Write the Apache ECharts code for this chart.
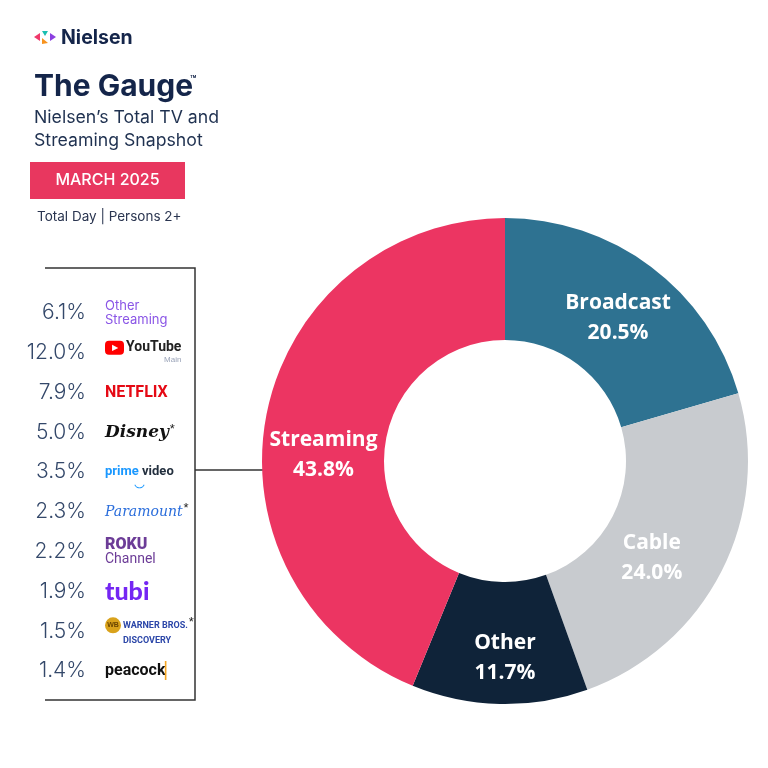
<!DOCTYPE html>
<html><head><meta charset="utf-8">
<script src="https://cdn.jsdelivr.net/npm/echarts@6/dist/echarts.min.js"></script>
<style>html,body{margin:0;padding:0;background:#fff}#c{width:768px;height:768px}</style>
</head><body><div id="c"></div>
<script>
// ---- data ----
var segments = ['Broadcast', 'Cable', 'Other', 'Streaming'];
var segmentShares = [20.5, 24.0, 11.7, 43.8];
var segmentColors = ['#2E7291', '#C8CBCF', '#0F2339', '#EC3562'];

var brands = ['Other Streaming', 'YouTube', 'Netflix', 'Disney', 'Prime Video', 'Paramount', 'Roku Channel', 'Tubi', 'Warner Bros. Discovery', 'Peacock'];
var brandShares = [6.1, 12.0, 7.9, 5.0, 3.5, 2.3, 2.2, 1.9, 1.5, 1.4];

var titleText = 'The Gauge';
var subtitleLines = ['Nielsen\u2019s Total TV and', 'Streaming Snapshot'];
var monthText = 'MARCH 2025';
var audienceText = 'Total Day | Persons 2+';

// ---- label placement nudges (style, not data) ----
var labelNudge = { 'Broadcast': [2, 5], 'Cable': [-18, 13], 'Other': [4, 12], 'Streaming': [0, 30] };

// ---- brand label rich strings ----
var brandLabel = {
  'Other Streaming': '{os|Other}\n{os|Streaming}',
  'YouTube': '{ytb|\u25B6}{yt|YouTube}\n{ytm|Main}',
  'Netflix': '{nf|NETFLIX}',
  'Disney': '{ds|Disney}{ast|*}',
  'Prime Video': '{pv1|prime}{pv2| video}\n{pvs|\u203F}',
  'Paramount': '{pm|Paramount}{ast|*}',
  'Roku Channel': '{rk|ROKU}\n{rc|Channel}',
  'Tubi': '{tb|tubi}',
  'Warner Bros. Discovery': '{wb|WB}{wbd|WARNER BROS.}{ast|*}\n{wbs| }{wbd|DISCOVERY}',
  'Peacock': '{pc|peacock}{pcb|\u258F}'
};

var chart = echarts.init(document.getElementById('c'));
var navy = '#14254A';

var option = {
  backgroundColor: '#fff',
  animation: false,
  grid: { left: 88, width: 10, top: 293, height: 398 },
  xAxis: { type: 'value', show: false },
  yAxis: [{
    type: 'category', inverse: true, data: brands, position: 'left',
    axisLine: { show: false }, axisTick: { show: false },
    axisLabel: {
      interval: 0, margin: 2, fontFamily: 'Inter', fontSize: 21, fontWeight: 300, color: '#34486A',
      formatter: function (v, i) { return brandShares[i].toFixed(1) + '%'; }
    }
  }, {
    type: 'category', inverse: true, data: brands, position: 'right',
    axisLine: { show: false }, axisTick: { show: false },
    axisLabel: {
      interval: 0, margin: 7, align: 'left',
      formatter: function (v) { return brandLabel[v]; },
      rich: {
        os: { color: '#8A55E6', fontSize: 13, lineHeight: 14, fontFamily: 'Inter' },
        ytb: { backgroundColor: '#FF0000', color: '#fff', fontSize: 8, padding: [3, 6, 3, 7], borderRadius: 4 },
        yt: { fontFamily: 'Roboto', fontWeight: 'bold', fontSize: 14, color: '#222', padding: [0, 0, 0, 2] },
        ytm: { fontSize: 8, color: '#9AA3B8', width: 66, align: 'right', lineHeight: 10 },
        nf: { color: '#E50914', fontWeight: 'bold', fontSize: 16, fontFamily: 'Roboto' },
        ds: { fontFamily: 'DejaVu Serif', fontStyle: 'italic', fontWeight: 'bold', fontSize: 17, color: '#111' },
        ast: { fontSize: 13, verticalAlign: 'top', color: '#222', padding: [0, 0, 6, 1] },
        pv1: { color: '#1A98FF', fontWeight: 'bold', fontSize: 13, fontFamily: 'Roboto', lineHeight: 13 },
        pv2: { color: '#232F3E', fontWeight: 'bold', fontSize: 13, fontFamily: 'Roboto', lineHeight: 13 },
        pvs: { color: '#1A98FF', fontSize: 18, width: 60, align: 'center', lineHeight: 1 },
        pm: { fontFamily: 'DejaVu Serif', fontStyle: 'italic', fontSize: 14, color: '#2A6DDB' },
        rk: { color: '#6C3C97', fontWeight: 900, fontSize: 16, lineHeight: 15, fontFamily: 'Roboto' },
        rc: { color: '#6C3C97', fontSize: 14, lineHeight: 14, fontFamily: 'Roboto' },
        tb: { color: '#7426F3', fontWeight: 900, fontSize: 25, fontFamily: 'Lato' },
        wb: { backgroundColor: '#D9A21B', color: '#6A4500', fontSize: 7, fontWeight: 'bold', width: 16, height: 16, borderRadius: 8, align: 'center' },
        wbd: { color: '#2B46A8', fontSize: 9, fontWeight: 'bold', padding: [0, 0, 0, 2], lineHeight: 10, fontFamily: 'Roboto' },
        wbs: { width: 16 },
        pc: { fontWeight: 'bold', fontSize: 16, color: '#111', fontFamily: 'Roboto' },
        pcb: { color: '#F5A623', fontSize: 16 }
      }
    }
  }],
  series: [{
    type: 'scatter', yAxisIndex: 0, symbolSize: 0, silent: true,
    data: brandShares.map(function (v, i) { return [0, i]; })
  }, {
    type: 'pie',
    center: [505, 461],
    radius: [121, 243],
    startAngle: 90,
    clockwise: true,
    silent: true,
    label: {
      show: true, position: 'inside',
      formatter: function (p) { return p.name + '\n' + p.value.toFixed(1) + '%'; },
      color: '#fff', fontSize: 21, fontWeight: 'bold', lineHeight: 30, fontFamily: 'Open Sans'
    },
    labelLine: { show: false },
    data: segments.map(function (n, i) {
      return { name: n, value: segmentShares[i], itemStyle: { color: segmentColors[i] }, label: { offset: labelNudge[n] } };
    })
  }],
  graphic: [
    // Nielsen logo marks
    { type: 'polygon', shape: { points: [[34, 37], [40, 33], [40, 41]] }, style: { fill: '#F0386B' } },
    { type: 'polygon', shape: { points: [[42, 31], [48, 31], [45, 36]] }, style: { fill: '#1BBFB0' } },
    { type: 'polygon', shape: { points: [[42, 38], [48, 43], [42, 44]] }, style: { fill: '#F7931E' } },
    { type: 'polygon', shape: { points: [[50, 33], [56, 37], [50, 41]] }, style: { fill: '#8B3FE0' } },
    { type: 'text', left: 61, top: 28, style: { text: 'Nielsen', font: 'bold 19.5px Inter', fill: navy } },
    { type: 'text', left: 34, top: 72, style: { text: titleText, font: 'bold 30px Inter', fill: navy } },
    { type: 'text', left: 190, top: 75, style: { text: '\u2122', font: 'bold 10px Inter', fill: navy } },
    { type: 'text', left: 34, top: 109, style: { text: subtitleLines[0], font: '17.7px Inter', fill: '#1F3150' } },
    { type: 'text', left: 34, top: 132, style: { text: subtitleLines[1], font: '17.7px Inter', fill: '#1F3150' } },
    { type: 'rect', shape: { x: 30, y: 162, width: 155, height: 37 }, style: { fill: '#E8375F' } },
    { type: 'text', x: 107.5, y: 180.5, style: { text: monthText, font: '500 16px Inter', fill: '#fff', align: 'center', verticalAlign: 'middle' } },
    { type: 'text', left: 37, top: 210, style: { text: audienceText, font: '13.5px Inter', fill: '#2A3550' } },
    // bracket
    { type: 'polyline', shape: { points: [[45, 268], [195, 268], [195, 700], [45, 700]] }, style: { stroke: '#333', lineWidth: 1.5, fill: null } },
    { type: 'line', shape: { x1: 195, y1: 470, x2: 263, y2: 470 }, style: { stroke: '#333', lineWidth: 1.5 } }
  ]
};
chart.setOption(option);
</script>
</body></html>
